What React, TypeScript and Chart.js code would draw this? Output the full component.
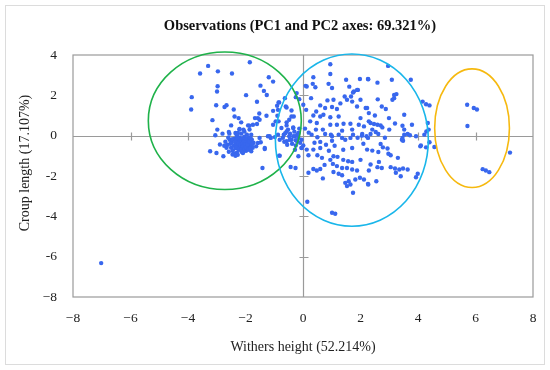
import React, { useEffect, useRef } from "react";
import { Chart, registerables } from "chart.js";

Chart.register(...registerables);

const TITLE = "Observations (PC1 and PC2 axes: 69.321%)";
const X_TITLE = "Withers height (52.214%)";
const Y_TITLE = "Croup length (17.107%)";

const xTickValues = [-8, -6, -4, -2, 0, 2, 4, 6, 8];
const xTickLabels = ["−8", "−6", "−4", "−2", "0", "2", "4", "6", "8"];
const yTickValues = [-8, -6, -4, -2, 0, 2, 4];
const yTickLabels = ["−8", "-6", "-4", "-2", "0", "2", "4"];

// left cluster (green ellipse area)
const leftGroup: [number, number][] = [
  [-3.30, 3.46], [-3.58, 3.08], [-2.96, 3.19], [-2.47, 3.08], [-1.85, 3.64], [-1.19, 2.90], [-1.04, 2.68],
  [-2.97, 2.45], [-2.99, 2.19], [-1.48, 2.48], [-1.36, 2.22], [-1.26, 2.02], [-1.98, 2.01], [-3.87, 1.91],
  [-1.60, 1.68], [-0.85, 1.65], [-3.02, 1.51], [-2.66, 1.51], [-2.73, 1.42], [-2.41, 1.30], [-0.90, 1.48],
  [-3.89, 1.30], [-1.52, 1.10], [-2.38, 0.95], [-2.24, 0.87], [-1.67, 0.87], [-1.57, 0.87], [-2.15, 0.66],
  [-3.15, 0.77], [-1.04, 0.54], [-0.85, 0.71], [-2.50, 0.51], [-1.91, 0.51], [-1.74, 0.54], [-1.60, 0.58],
  [-2.98, 0.30], [-2.21, 0.30], [-2.07, 0.30], [-1.86, 0.30], [-2.58, 0.18], [-2.35, 0.13], [-2.21, 0.33],
  [-1.86, 0.49], [-3.05, 0.02], [-2.80, 0.10], [-2.56, 0.10], [-2.27, 0.13], [-2.04, 0.21], [-1.80, 0.05],
  [-1.51, -0.11], [-1.47, -0.33], [-1.63, -0.53], [-2.89, -0.44], [-3.23, -0.77], [-3.01, -0.86],
  [-2.77, -1.02], [-2.45, -0.94], [-2.09, -0.86], [-1.80, -0.77], [-1.33, -0.66], [-1.41, -1.60],
  [-1.16, -0.03], [-0.98, -0.07], [-0.81, -0.99], [-1.51, 0.79], [-1.27, 0.99], [-1.22, -0.03],
  [-1.12, -0.11], [-1.33, -0.61], [-1.57, -0.36],
];

// dense core of the left cluster
const leftCore: [number, number][] = [
  [-2.70, -0.30], [-2.62, -0.45], [-2.55, -0.20], [-2.50, -0.60], [-2.48, -0.35], [-2.44, -0.75], [-2.40, -0.50],
  [-2.38, -0.15], [-2.35, -0.62], [-2.33, -0.40], [-2.30, -0.85], [-2.28, -0.28], [-2.26, -0.55], [-2.24, -0.70],
  [-2.22, -0.45], [-2.20, -0.10], [-2.18, -0.60], [-2.16, -0.35], [-2.14, -0.80], [-2.12, -0.50], [-2.10, -0.25],
  [-2.08, -0.65], [-2.06, -0.42], [-2.04, -0.05], [-2.02, -0.55], [-2.00, -0.30], [-1.98, -0.75], [-1.96, -0.48],
  [-1.94, -0.20], [-1.92, -0.62], [-1.90, -0.38], [-1.88, -0.10], [-1.85, -0.55], [-1.83, -0.30], [-1.80, -0.45],
  [-1.78, -0.20], [-1.75, -0.60], [-1.72, -0.35], [-2.66, -0.60], [-2.58, -0.80], [-2.52, -0.40], [-2.46, -0.18],
  [-2.42, -0.90], [-2.36, -0.30], [-2.32, -0.58], [-2.29, -0.12], [-2.27, -0.95], [-2.25, -0.38], [-2.23, -0.62],
  [-2.19, -0.22], [-2.17, -0.48], [-2.15, -0.68], [-2.13, -0.15], [-2.11, -0.38], [-2.09, -0.55], [-2.07, -0.78],
  [-2.05, -0.28], [-2.03, -0.66], [-2.01, -0.45], [-1.99, -0.15], [-1.97, -0.58], [-1.93, -0.42], [-1.91, -0.70],
  [-1.87, -0.28], [-1.84, -0.65], [-1.82, -0.12], [-1.77, -0.42], [-2.60, -0.10], [-2.74, -0.50], [-2.35, -1.00],
  [-1.95, 0.05], [-2.30, 0.02], [-2.15, 0.10],
];

// points around the vertical axis, between the two large clusters
const middleGroup: [number, number][] = [
  [-0.83, 1.65], [-0.60, 1.45], [-0.40, 1.25], [-0.32, 0.95], [-0.87, 1.28], [-1.04, 1.23], [-0.13, 1.81],
  [-0.25, 1.91], [-0.22, 2.11], [-0.57, 0.66], [-0.75, 0.38], [-0.52, 0.30], [-0.34, 0.38], [-0.67, 0.05],
  [-0.48, -0.03], [-0.28, -0.03], [-0.16, 0.13], [-0.40, -0.20], [-0.20, -0.28], [-0.05, -0.20], [-0.57, -0.28],
  [-0.81, -0.20], [-0.87, 0.05], [-0.25, -0.49], [0.01, -0.49], [-0.83, -0.99], [-0.43, -1.55], [-0.26, -1.60],
  [-0.89, 0.99], [-0.63, 1.86], [-0.57, 1.40], [-0.40, 0.95], [-0.48, 0.79], [-0.57, 0.51], [-0.34, 0.41],
  [-0.13, 0.35], [-0.46, -0.20], [-0.34, -0.03], [-0.25, -0.23], [-0.16, -0.11], [-0.57, 0.21], [-0.95, 0.71],
  [-0.16, -1.02], [-0.62, 0.12], [-0.70, -0.10], [-0.45, 0.10], [-0.30, 0.20], [-0.10, -0.35], [-0.55, -0.45],
  [-0.20, 0.05], [-0.38, -0.40], [-0.65, -0.30], [-0.28, -0.70], [-0.05, -0.60],
];

// right-hand large cluster (blue ellipse area)
const rightGroup: [number, number][] = [
  [0.95, 3.54], [0.95, 3.06], [0.36, 2.90], [1.50, 2.77], [1.98, 2.81], [2.26, 2.81], [0.13, 2.44], [0.43, 2.40],
  [0.89, 2.57], [1.01, 2.36], [1.61, 2.43], [1.77, 2.19], [1.91, 2.27], [1.45, 1.94], [1.67, 1.94], [0.28, 1.86],
  [1.06, 1.78], [1.53, 1.78], [1.71, 1.69], [2.00, 1.78], [0.01, 1.53], [0.60, 1.50], [0.77, 1.37], [1.01, 1.42],
  [1.88, 1.45], [2.18, 1.37], [0.11, 1.28], [0.46, 1.20], [1.18, 1.32], [0.36, 1.00], [0.60, 0.95], [0.71, 1.04],
  [0.95, 0.91], [1.24, 0.95], [2.00, 0.87], [2.29, 1.12], [0.25, 0.71], [0.48, 0.63], [0.95, 0.54], [1.18, 0.54],
  [1.41, 0.59], [1.65, 0.59], [1.94, 0.54], [2.12, 0.46], [0.07, 0.35], [0.69, 0.30], [1.36, 0.25], [1.71, 0.30],
  [0.77, 0.08], [0.97, 0.05], [1.24, 0.05], [1.74, 0.05], [2.06, 0.08], [2.21, -0.03], [0.30, 0.05], [0.50, -0.08],
  [1.01, -0.25], [0.60, -0.31], [-0.05, -0.61], [0.13, -0.69], [0.36, -0.69], [0.60, -0.61], [0.50, -0.97],
  [0.66, -1.10], [0.19, -0.97], [0.36, -1.65], [0.48, -1.73], [0.60, -1.65], [0.19, -1.84], [0.69, -2.12],
  [1.06, -1.02], [1.20, -1.05], [1.04, -1.40], [1.18, -1.51], [1.36, -1.60], [1.53, -1.60], [1.71, -1.68],
  [1.88, -1.73], [1.57, -1.27], [1.71, -1.30], [1.06, -1.80], [1.24, -1.89], [1.36, -1.96], [1.71, -0.61],
  [2.23, -0.69], [2.26, -0.11], [1.82, -2.17], [1.98, -2.09], [2.12, -2.17], [1.47, -2.34], [1.59, -2.26],
  [1.65, -2.42], [1.53, -2.50], [1.74, -2.83], [2.26, -2.39], [0.15, -3.28], [1.01, -3.82], [1.12, -3.87],
  [1.01, -0.03], [1.36, -0.11], [1.47, -0.20], [1.65, -0.11], [1.90, -0.10], [2.05, 0.00],
  [2.96, 3.46], [2.27, 2.80], [2.59, 2.63], [3.09, 2.77], [3.75, 2.77], [3.25, 2.06], [3.17, 1.86], [3.11, 1.78],
  [4.16, 1.69], [4.28, 1.56], [4.40, 1.50], [2.74, 1.45], [2.88, 1.32], [2.23, 1.37], [3.52, 1.04], [2.99, 0.87],
  [2.29, 0.71], [2.35, 0.63], [2.47, 0.58], [2.59, 0.54], [2.70, 0.51], [2.76, 0.41], [3.46, 0.49], [3.52, 0.30],
  [3.79, 0.54], [2.41, 0.30], [2.53, 0.18], [2.62, 0.08], [2.35, 0.08], [3.52, 0.05], [3.64, 0.08], [3.72, 0.02],
  [3.93, -0.03], [3.44, -0.20], [3.48, -0.25], [4.22, 0.05], [4.37, 0.30], [2.70, -0.41], [3.46, -0.11],
  [4.08, -0.53], [4.28, -0.58], [4.57, -0.56], [2.41, -0.74], [2.62, -0.81], [2.78, -0.58], [2.94, -0.64],
  [2.97, -0.90], [3.05, -0.97], [2.64, -1.30], [2.35, -1.43], [2.59, -1.56], [2.74, -1.60], [3.05, -1.56],
  [3.20, -1.63], [3.35, -1.68], [3.48, -1.63], [3.64, -1.68], [3.23, -1.84], [3.40, -2.01], [3.99, -1.89],
  [3.93, -2.06], [2.29, -1.73], [2.55, -2.26], [2.27, -2.42], [0.09, 2.47], [0.34, 2.57], [1.88, 2.27],
  [1.74, 2.14], [3.17, 2.02], [4.34, 0.63], [4.29, 0.21], [4.40, -0.33], [4.10, -0.49], [1.30, 1.60],
  [0.85, 1.75], [0.20, 0.15], [0.45, 0.30], [0.80, -0.45], [1.10, -0.50], [1.40, -0.70], [0.90, -0.75],
  [0.40, -0.35], [0.75, -1.45], [2.00, -1.20], [2.10, -0.40], [3.20, 0.60], [3.00, 0.30], [2.85, -0.10],
  [3.30, -1.10], [2.50, 1.00], [2.60, 1.80], [1.40, -1.20], [0.95, -1.20],
];

// far-right small group (orange ellipse area)
const farRightGroup: [number, number][] = [
  [5.71, 1.53], [5.94, 1.37], [6.05, 1.30], [5.72, 0.48], [7.20, -0.84], [6.25, -1.66], [6.36, -1.73], [6.48, -1.81],
];

const outliers: [number, number][] = [[-7.02, -6.32]];

// ellipses: centre x, centre y, radius x, radius y (data units)
const ellipseCx = [-2.72, 1.70, 5.88];
const ellipseCy = [0.74, -0.22, 0.37];
const ellipseRx = [2.66, 2.66, 1.30];
const ellipseRy = [3.41, 4.27, 2.94];
const ellipseColors = ["#1fb24a", "#19b6ea", "#f6b90f"];

const FONT = "'Liberation Serif', 'DejaVu Serif', serif";

const decorPlugin = {
  id: "decor",
  beforeDraw(chart: any) {
    const { ctx, width, height } = chart;
    ctx.save();
    ctx.fillStyle = "#ffffff";
    ctx.fillRect(0, 0, width, height);
    ctx.strokeStyle = "#dcdcdc";
    ctx.lineWidth = 1;
    ctx.strokeRect(5.5, 5.5, width - 11, height - 11);
    ctx.restore();
  },
  beforeDatasetsDraw(chart: any) {
    const { ctx, chartArea: a, scales } = chart;
    const xs = scales.x;
    const ys = scales.y;
    ctx.save();
    ctx.strokeStyle = "#9a9a9a";
    ctx.lineWidth = 1.2;
    ctx.strokeRect(a.left, a.top, a.right - a.left, a.bottom - a.top);
    const x0 = Math.round(xs.getPixelForValue(0)) + 0.5;
    const y0 = Math.round(ys.getPixelForValue(0)) + 0.5;
    ctx.beginPath();
    ctx.moveTo(x0, a.top);
    ctx.lineTo(x0, a.bottom);
    ctx.moveTo(a.left, y0);
    ctx.lineTo(a.right, y0);
    xTickValues.forEach((v) => {
      if (v === 0 || v === xTickValues[0] || v === xTickValues[xTickValues.length - 1]) return;
      const px = Math.round(xs.getPixelForValue(v)) + 0.5;
      ctx.moveTo(px, y0 - 4);
      ctx.lineTo(px, y0 + 4);
    });
    yTickValues.forEach((v) => {
      if (v === 0 || v === yTickValues[0] || v === yTickValues[yTickValues.length - 1]) return;
      const py = Math.round(ys.getPixelForValue(v)) + 0.5;
      ctx.moveTo(x0 - 4, py);
      ctx.lineTo(x0 + 5, py);
    });
    ctx.stroke();
    ctx.restore();
  },
  afterDatasetsDraw(chart: any) {
    const { ctx, scales } = chart;
    const xs = scales.x;
    const ys = scales.y;
    ctx.save();
    ctx.lineWidth = 1.6;
    ellipseCx.forEach((cx, i) => {
      const px = xs.getPixelForValue(cx);
      const py = ys.getPixelForValue(ellipseCy[i]);
      const rx = Math.abs(xs.getPixelForValue(cx + ellipseRx[i]) - px);
      const ry = Math.abs(ys.getPixelForValue(ellipseCy[i] + ellipseRy[i]) - py);
      ctx.strokeStyle = ellipseColors[i];
      ctx.beginPath();
      ctx.ellipse(px, py, rx, ry, 0, 0, Math.PI * 2);
      ctx.stroke();
    });
    ctx.restore();
  },
  afterDraw(chart: any) {
    const { ctx, chartArea: a } = chart;
    ctx.save();
    ctx.fillStyle = "#111111";
    ctx.textAlign = "center";
    ctx.textBaseline = "middle";
    ctx.font = `bold 14.5px ${FONT}`;
    ctx.fillText(TITLE, 300, 26);
    ctx.font = `14px ${FONT}`;
    ctx.fillStyle = "#222222";
    ctx.fillText(X_TITLE, (a.left + a.right) / 2, 347);
    ctx.translate(25, 163);
    ctx.rotate(-Math.PI / 2);
    ctx.fillText(Y_TITLE, 0, 0);
    ctx.restore();
  },
};

export default function App() {
  const ref = useRef<HTMLCanvasElement | null>(null);

  useEffect(() => {
    document.body.style.margin = "0";
    const canvas = ref.current;
    if (!canvas) return;
    const toPts = (arr: [number, number][]) => arr.map(([x, y]) => ({ x, y }));
    const all = [...leftGroup, ...leftCore, ...middleGroup, ...rightGroup, ...farRightGroup, ...outliers];
    const chart = new Chart(canvas, {
      type: "scatter",
      data: {
        datasets: [
          {
            label: "Observations",
            data: toPts(all),
            backgroundColor: "#3867ee",
            borderWidth: 0,
            pointRadius: 2.2,
          },
        ],
      },
      options: {
        responsive: false,
        animation: false,
        devicePixelRatio: 1,
        layout: { padding: { top: 55, right: 17, left: 0, bottom: 0 } },
        plugins: {
          legend: { display: false },
          title: { display: false },
          tooltip: { enabled: false },
        },
        scales: {
          x: {
            type: "linear",
            min: -8,
            max: 8,
            afterBuildTicks: (s: any) => {
              s.ticks = xTickValues.map((v) => ({ value: v }));
            },
            afterFit: (s: any) => {
              s.height = 73;
            },
            grid: { display: false, drawTicks: false },
            border: { display: false },
            ticks: {
              padding: 13,
              color: "#222222",
              font: { family: FONT, size: 13.5 },
              maxRotation: 0,
              callback: (v: any) => {
                const i = xTickValues.indexOf(Number(v));
                return i >= 0 ? xTickLabels[i] : "";
              },
            },
          },
          y: {
            type: "linear",
            min: -8,
            max: 4,
            afterBuildTicks: (s: any) => {
              s.ticks = yTickValues.map((v) => ({ value: v }));
            },
            afterFit: (s: any) => {
              s.width = 73;
            },
            grid: { display: false, drawTicks: false },
            border: { display: false },
            ticks: {
              padding: 16,
              color: "#222222",
              font: { family: FONT, size: 13.5 },
              callback: (v: any) => {
                const i = yTickValues.indexOf(Number(v));
                return i >= 0 ? yTickLabels[i] : "";
              },
            },
          },
        },
      },
      plugins: [decorPlugin],
    } as any);
    return () => chart.destroy();
  }, []);

  return (
    <div style={{ width: 550, height: 370 }}>
      <canvas ref={ref} width={550} height={370} style={{ display: "block" }} />
    </div>
  );
}
